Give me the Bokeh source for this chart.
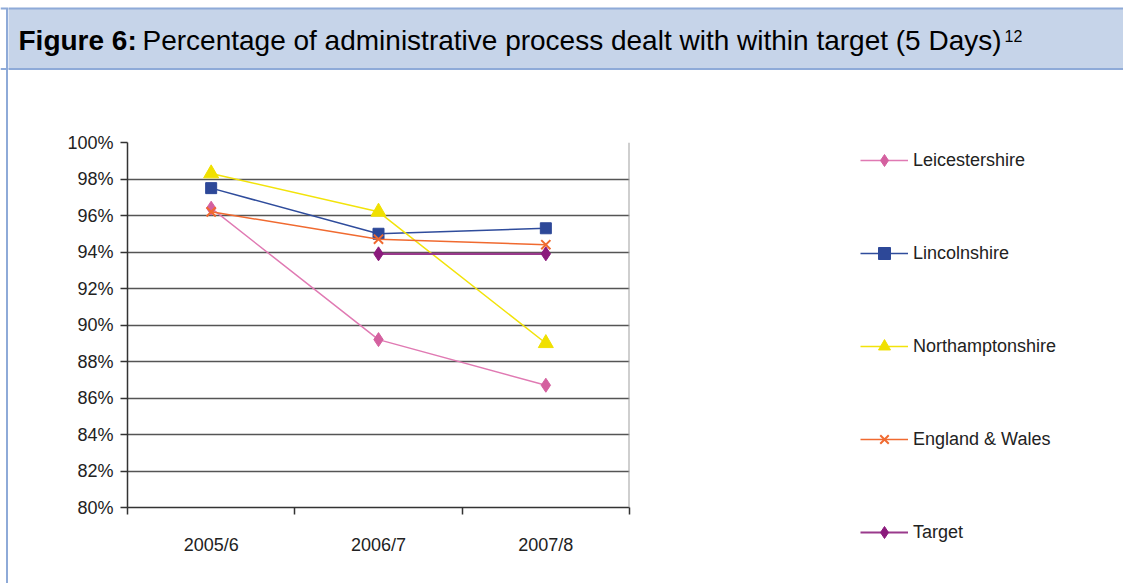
import numpy as np
from bokeh.plotting import figure
from bokeh.layouts import column, row
from bokeh.models import (Range1d, FixedTicker, PrintfTickFormatter, Legend, LegendItem, Span)
from bokeh.core.properties import value
from bokeh.embed import file_html
from bokeh.resources import INLINE

# ---- data ----
categories = ["2005/6", "2006/7", "2007/8"]
leicestershire = [96.4, 89.2, 86.7]
lincolnshire = [97.5, 95.0, 95.3]
northamptonshire = [98.3, 96.2, 89.0]
england_wales = [96.2, 94.7, 94.4]
target = [None, 93.9, 93.9]
y_ticks = [80, 82, 84, 86, 88, 90, 92, 94, 96, 98, 100]

FONT = "Liberation Sans"
TXT = "#222222"
BLUE_EDGE = "#8eaad8"
HDR_FILL = "#c6d4e9"

# ---- left strip (frame border of the figure box) ----
strip = figure(width=8, height=583, x_range=Range1d(0, 8), y_range=Range1d(583, 0),
               output_backend="svg", toolbar_location=None, min_border=0,
               background_fill_color="white", border_fill_color="white", outline_line_color=None,
               frame_align=False)
strip.axis.visible = False
strip.grid.visible = False
strip.quad(left=[6.5], right=[9], top=[8], bottom=[68.5], fill_color=HDR_FILL, line_color=None)
strip.segment(x0=[0], y0=[8], x1=[9], y1=[8], line_color=BLUE_EDGE, line_width=2)
strip.segment(x0=[0], y0=[68.5], x1=[9], y1=[68.5], line_color=BLUE_EDGE, line_width=2)
strip.segment(x0=[6.5], y0=[8], x1=[6.5], y1=[583], line_color=BLUE_EDGE, line_width=2)

# ---- header ----
hdr = figure(width=1115, height=70, x_range=Range1d(8, 1123), y_range=Range1d(70, 0),
             output_backend="svg", toolbar_location=None, min_border=0,
             background_fill_color="white", border_fill_color="white", outline_line_color=None,
             frame_align=False)
hdr.axis.visible = False
hdr.grid.visible = False
hdr.quad(left=[0], right=[1130], top=[8], bottom=[68.5], fill_color=HDR_FILL,
         line_color=BLUE_EDGE, line_width=2)
hdr.text(x=[18], y=[40], text=["Figure 6:"], text_font=value(FONT), text_font_style="bold",
         text_font_size="28px", text_color="black", text_baseline="middle")
hdr.text(x=[142], y=[40], text=["Percentage of administrative process dealt with within target (5 Days)"],
         text_font=value(FONT), text_font_size="28px", text_color="black", text_baseline="middle")
hdr.text(x=[1004], y=[35], text=["12"], text_font=value(FONT), text_font_size="16px",
         text_color="black", text_baseline="middle")

# ---- main chart ----
n = len(categories)
xs = [i + 0.5 for i in range(n)]

p = figure(frame_width=502, frame_height=365,
           x_range=Range1d(0, n), y_range=Range1d(y_ticks[0], y_ticks[-1]),
           output_backend="svg", toolbar_location=None,
           min_border_left=119, min_border_right=494, min_border_top=72, min_border_bottom=76,
           background_fill_color="white", border_fill_color="white", outline_line_color=None,
           frame_align=False)

p.xaxis.ticker = FixedTicker(ticks=xs, minor_ticks=list(range(n + 1)))
p.xaxis.major_label_overrides = {x: c for x, c in zip(xs, categories)}
p.xaxis.major_tick_out = 0
p.xaxis.major_tick_in = 0
p.xaxis.minor_tick_out = 7
p.xaxis.minor_tick_in = 0
p.xaxis.minor_tick_line_color = "#333333"
p.xaxis.minor_tick_line_width = 1.5
p.xaxis.axis_line_color = "#333333"
p.xaxis.axis_line_width = 1.5
p.xaxis.major_label_standoff = 20

p.yaxis.ticker = FixedTicker(ticks=y_ticks)
p.yaxis.formatter = PrintfTickFormatter(format="%d%%")
p.yaxis.major_tick_out = 7
p.yaxis.major_tick_in = 0
p.yaxis.minor_tick_line_color = None
p.yaxis.major_tick_line_color = "#333333"
p.yaxis.major_tick_line_width = 1.5
p.yaxis.axis_line_color = "#333333"
p.yaxis.axis_line_width = 1.5
p.yaxis.major_label_standoff = 7

for ax in (p.xaxis, p.yaxis):
    ax.major_label_text_font = FONT
    ax.major_label_text_font_size = "18px"
    ax.major_label_text_color = TXT

p.xgrid.visible = False
p.ygrid.ticker = FixedTicker(ticks=y_ticks)
p.ygrid.grid_line_color = "#555555"
p.ygrid.grid_line_width = 1.6

p.add_layout(Span(location=n, dimension="height", line_color="#a0a0a0", line_width=2))

def arr(v):
    return np.array([np.nan if a is None else a for a in v], dtype=float)

series = [
    ("Leicestershire", leicestershire, "#e07ab3", "#d4609f", "diamond", 14, 1.5),
    ("Lincolnshire", lincolnshire, "#2f4c9c", "#2d4898", "square", 11, 1.5),
    ("Northamptonshire", northamptonshire, "#f2e30a", "#f0e000", "triangle", 15, 1.5),
    ("England & Wales", england_wales, "#f06a30", "#f06a30", "x", 13, 1.5),
    ("Target", target, "#9a3a8c", "#8b1a7c", "diamond", 14, 2.2),
]

items = []
for name, vals, lc, mc, marker, size, lw in series:
    y = arr(vals)
    r1 = p.line(xs, y, line_color=lc, line_width=lw)
    if marker == "x":
        r2 = p.scatter(xs, y, marker=marker, size=size, line_color=mc, line_width=2)
    else:
        r2 = p.scatter(xs, y, marker=marker, size=size, fill_color=mc, line_color=mc)
    items.append(LegendItem(label=name, renderers=[r1, r2]))

legend = Legend(items=items, location=(231, -40), orientation="vertical",
                glyph_width=48, glyph_height=30, label_height=30, spacing=63,
                padding=0, margin=0, label_standoff=5,
                border_line_color=None, background_fill_alpha=0,
                label_text_font=FONT, label_text_font_size="18px", label_text_color=TXT)
p.add_layout(legend, "right")

layout = row(strip, column(hdr, p, spacing=0), spacing=0)

open("out.html", "w").write(file_html(layout, INLINE))
